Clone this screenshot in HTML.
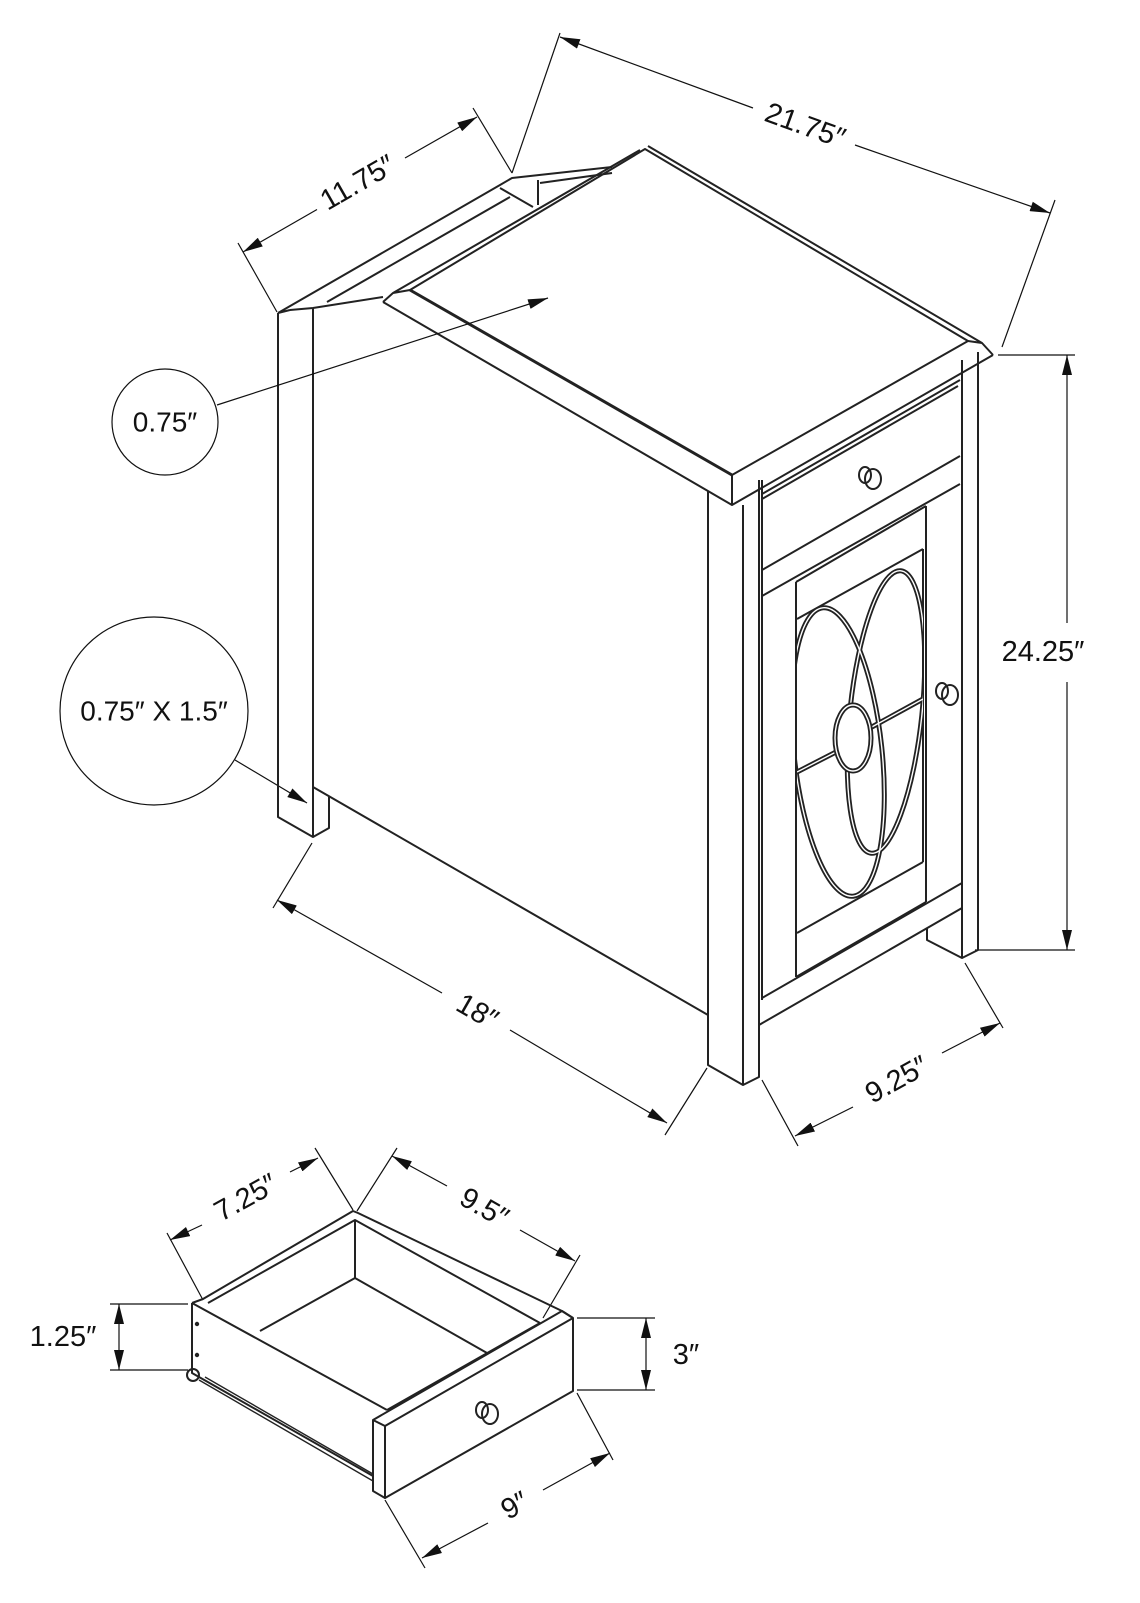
<!DOCTYPE html>
<html><head><meta charset="utf-8"><style>
html,body{margin:0;padding:0;background:#fff}
svg{display:block}
text{font-family:"Liberation Sans",sans-serif;fill:#111}
</style></head><body>
<svg width="1140" height="1603" viewBox="0 0 1140 1603" xmlns="http://www.w3.org/2000/svg">
<defs>
<marker id="a" viewBox="0 0 20 10" refX="20" refY="5" markerWidth="20" markerHeight="10" markerUnits="userSpaceOnUse" orient="auto-start-reverse"><path d="M0,0L20,5L0,10z" fill="#111"/></marker>
<clipPath id="g"><polygon points="797,619 923,549 923,862 797,933"/></clipPath>
</defs>
<g fill="none" stroke="#111" stroke-width="1.2">
<line x1="317" y1="209.5" x2="243" y2="252" marker-end="url(#a)"/>
<line x1="405" y1="158" x2="477" y2="117" marker-end="url(#a)"/>
<line x1="753" y1="108" x2="560" y2="37" marker-end="url(#a)"/>
<line x1="855" y1="145" x2="1050" y2="213" marker-end="url(#a)"/>
<line x1="1067" y1="623" x2="1067" y2="355" marker-end="url(#a)"/>
<line x1="1067" y1="682" x2="1067" y2="950" marker-end="url(#a)"/>
<line x1="442" y1="993" x2="277" y2="900" marker-end="url(#a)"/>
<line x1="510" y1="1030" x2="667" y2="1123" marker-end="url(#a)"/>
<line x1="853" y1="1107" x2="795" y2="1136" marker-end="url(#a)"/>
<line x1="942" y1="1053" x2="1000" y2="1023" marker-end="url(#a)"/>
<line x1="202" y1="1225" x2="170" y2="1240" marker-end="url(#a)"/>
<line x1="290" y1="1172" x2="318" y2="1158" marker-end="url(#a)"/>
<line x1="447" y1="1186" x2="392" y2="1156" marker-end="url(#a)"/>
<line x1="520" y1="1230" x2="575" y2="1261" marker-end="url(#a)"/>
<line x1="488" y1="1523" x2="422" y2="1558" marker-end="url(#a)"/>
<line x1="543" y1="1490" x2="610" y2="1453" marker-end="url(#a)"/>
<line x1="119" y1="1337" x2="119" y2="1304" marker-end="url(#a)"/>
<line x1="119" y1="1337" x2="119" y2="1370" marker-end="url(#a)"/>
<line x1="646" y1="1354" x2="646" y2="1318" marker-end="url(#a)"/>
<line x1="646" y1="1354" x2="646" y2="1390" marker-end="url(#a)"/>
<line x1="235" y1="760" x2="307" y2="803" marker-end="url(#a)"/>
<path d="M238,243L277,312M473,108L512,173M512,173L560,33M1055,200L1002,347M998,355H1075M975,950H1075M312,843L273,908M707,1068L665,1135M762,1080L798,1146M965,963L1003,1028M167,1233L203,1300M315,1148L353,1210M397,1148L357,1211M580,1255L543,1318M110,1304H188M110,1370H188M577,1318H655M577,1390H655M577,1393L613,1460M385,1500L425,1568"/>
<circle cx="165" cy="422" r="53"/>
<circle cx="154" cy="711" r="94"/>
</g>
<g fill="none" stroke="#222" stroke-width="2" stroke-linejoin="round">
<polygon points="645,149 968,341 732,475 410,290" fill="#fff"/>
<path d="M648,146L982,343L993,355M968,341L982,343"/>
<path d="M410,290L732,475" stroke-width="3"/>
<path d="M383,302L732,505L993,355M732,475V505M410,290L393,293L383,302M393,293L640,150"/>
<path d="M278,313L500,185L512,178L612,167M290,310L313,308L383,297M327,302L510,197M500,188L533,207M538,180V205M540,183L612,173M278,313L290,310"/>
<path d="M278,313V817L313,837L329,828V797M313,308V837M313,787L708,1015"/>
<path d="M708,491V1065L743,1085L759,1077V480M743,505V1085M762,480V1000"/>
<path d="M962,360V958L978,950V352M927,928V940L962,958"/>
<path d="M762,494L960,380M762,499L958,386M762,570L960,456M762,596L960,484"/>
<path d="M762,998L962,883M759,1025L962,908M796,582V977M926,506V902M796,582L926,506M797,619L923,549M797,933L923,862M796,977L926,902M923,549V862"/>
<ellipse cx="865" cy="475" rx="6" ry="8"/><ellipse cx="873" cy="479" rx="8" ry="10"/>
<ellipse cx="942" cy="691" rx="6" ry="8"/><ellipse cx="950" cy="695" rx="8" ry="10"/>
</g>
<line x1="217" y1="405" x2="548" y2="298" stroke="#111" stroke-width="1.2" marker-end="url(#a)"/>
<g clip-path="url(#g)" fill="none">
<g stroke="#222" stroke-width="5">
<ellipse cx="838" cy="752" rx="44" ry="145" transform="rotate(-6 838 752)"/>
<ellipse cx="886" cy="712" rx="36" ry="142" transform="rotate(6 886 712)"/>
<path d="M797,772L836,752M870,728L923,699"/>
</g>
<g stroke="#fff" stroke-width="1.4">
<ellipse cx="838" cy="752" rx="44" ry="145" transform="rotate(-6 838 752)"/>
<ellipse cx="886" cy="712" rx="36" ry="142" transform="rotate(6 886 712)"/>
<path d="M797,772L836,752M870,728L923,699"/>
</g>
</g>
<ellipse cx="853" cy="738" rx="18" ry="33" fill="#fff" stroke="#222" stroke-width="5"/>
<ellipse cx="853" cy="738" rx="18" ry="33" fill="none" stroke="#fff" stroke-width="1.4"/>
<g fill="none" stroke="#222" stroke-width="2" stroke-linejoin="round">
<path d="M192,1303V1373L373,1476M192,1303L387,1410M192,1303L203,1299L353,1211L358,1213L562,1311L573,1318M208,1303L355,1220L540,1323M355,1220V1278M260,1331L355,1278L487,1353M387,1410L540,1323"/>
<polygon points="373,1420 385,1426 385,1498 373,1491" fill="#fff"/>
<polygon points="385,1426 573,1318 573,1391 385,1498" fill="#fff"/>
<path d="M373,1420L562,1311L573,1318"/>
<path d="M199,1380L373,1481M205,1377L373,1474" stroke-width="1.4"/>
<circle cx="193" cy="1375" r="6"/>
<ellipse cx="482" cy="1410" rx="6" ry="8"/><ellipse cx="490" cy="1414" rx="8" ry="10"/>
</g>
<circle cx="197" cy="1324" r="2.2" fill="#222"/><circle cx="197" cy="1355" r="2.2" fill="#222"/>
<g font-size="29" text-anchor="middle" dominant-baseline="central">
<text x="358" y="183" transform="rotate(-30 358 183)">11.75″</text>
<text x="805" y="126" transform="rotate(19.8 805 126)">21.75″</text>
<text x="1043" y="652">24.25″</text>
<text x="477" y="1012" transform="rotate(29.8 477 1012)">18″</text>
<text x="897" y="1080" transform="rotate(-28.9 897 1080)">9.25″</text>
<text x="246" y="1198" transform="rotate(-29 246 1198)">7.25″</text>
<text x="484" y="1208" transform="rotate(29.8 484 1208)">9.5″</text>
<text x="515" y="1506" transform="rotate(-29.2 515 1506)">9″</text>
<text x="63" y="1337">1.25″</text>
<text x="686" y="1355">3″</text>
<text x="165" y="422" font-size="28">0.75″</text>
<text x="154" y="711" font-size="28">0.75″ X 1.5″</text>
</g>
</svg>
</body></html>
